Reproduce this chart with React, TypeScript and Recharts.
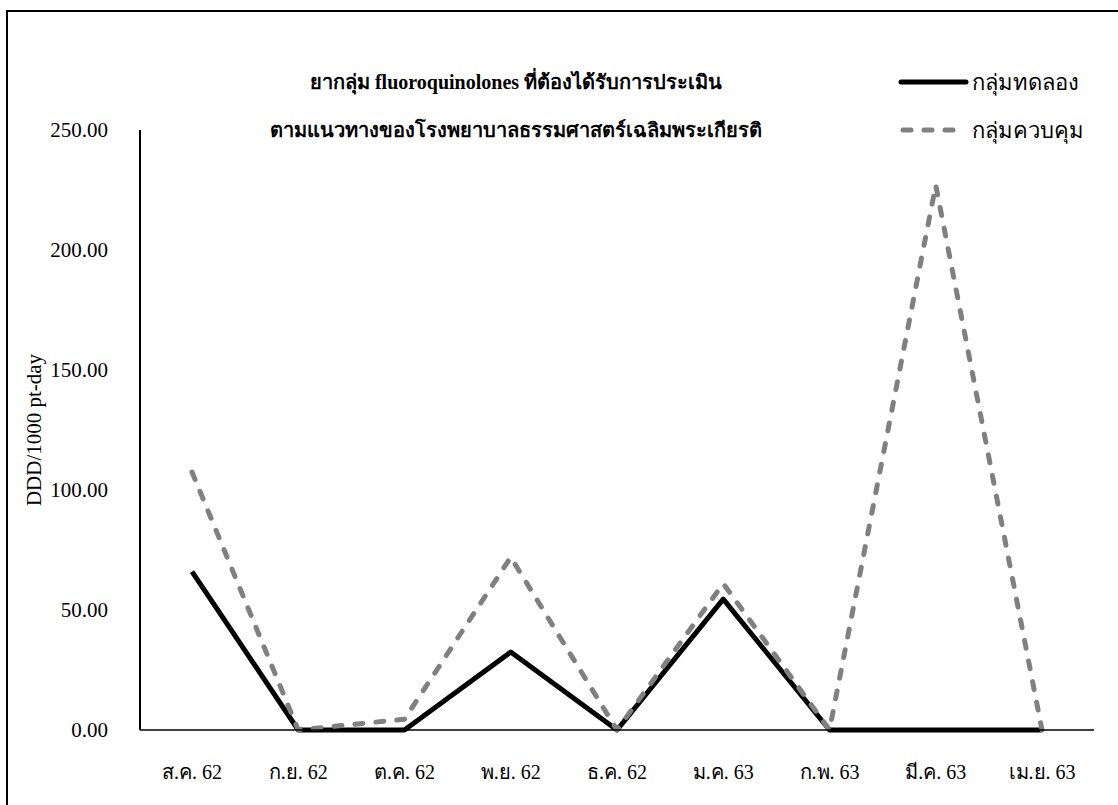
import React from "react";
import { LineChart, Line, XAxis, YAxis, Legend } from "recharts";

// เดือนที่ติดตาม (ส.ค. 62 - เม.ย. 63)
const months = [
  "ส.ค. 62",
  "ก.ย. 62",
  "ต.ค. 62",
  "พ.ย. 62",
  "ธ.ค. 62",
  "ม.ค. 63",
  "ก.พ. 63",
  "มี.ค. 63",
  "เม.ย. 63",
];

// DDD/1000 pt-day
const experimentGroup = [66, 0, 0, 32.5, 0, 54.5, 0, 0, 0];
const controlGroup = [107.5, 0, 4.5, 72, 0, 61, 0, 227, 0];

const yTicks = [0, 50, 100, 150, 200, 250];

const titleLines = [
  "ยากลุ่ม fluoroquinolones ที่ต้องได้รับการประเมิน",
  "ตามแนวทางของโรงพยาบาลธรรมศาสตร์เฉลิมพระเกียรติ",
];

const seriesNames = { experiment: "กลุ่มทดลอง", control: "กลุ่มควบคุม" };

const data = months.map((m, i) => ({
  month: m,
  experiment: experimentGroup[i],
  control: controlGroup[i],
}));

const FONT = '"Liberation Serif", "Times New Roman", "DejaVu Serif", serif';
const DASH = "8 13";

const renderLegend = () => (
  <div style={{ fontFamily: FONT, fontSize: 22, color: "#000", textAlign: "left" }}>
    <div style={{ display: "flex", alignItems: "center", height: 48 }}>
      <svg width={72} height={10}>
        <line x1={3} y1={5} x2={68} y2={5} stroke="#000" strokeWidth={5} strokeLinecap="round" />
      </svg>
      <span style={{ marginLeft: 2 }}>{seriesNames.experiment}</span>
    </div>
    <div style={{ display: "flex", alignItems: "center", height: 48 }}>
      <svg width={72} height={10}>
        <line
          x1={5}
          y1={5}
          x2={66}
          y2={5}
          stroke="#808080"
          strokeWidth={5}
          strokeLinecap="round"
          strokeDasharray={DASH}
        />
      </svg>
      <span style={{ marginLeft: 2 }}>{seriesNames.control}</span>
    </div>
  </div>
);

export default function App() {
  return (
    <div
      style={{
        position: "absolute",
        left: 0,
        top: 0,
        width: 1118,
        height: 805,
        background: "#fff",
        overflow: "hidden",
        fontFamily: FONT,
      }}
    >
      {/* chart frame (runs off the right and bottom edge) */}
      <div
        style={{
          position: "absolute",
          left: 6,
          top: 10,
          width: 1120,
          height: 800,
          borderLeft: "2px solid #000",
          borderTop: "2px solid #000",
        }}
      />
      <div
        style={{
          position: "absolute",
          left: 0,
          top: 58,
          width: 1032,
          textAlign: "center",
          fontWeight: "bold",
          fontSize: 20,
          lineHeight: "48px",
          color: "#000",
        }}
      >
        {titleLines.map((t) => (
          <div key={t}>{t}</div>
        ))}
      </div>
      <LineChart
        width={1118}
        height={805}
        data={data}
        margin={{ top: 130, right: 24, bottom: 35, left: 40 }}
        style={{ position: "absolute", left: 0, top: 0 }}
      >
        <XAxis
          dataKey="month"
          height={40}
          padding={{ left: 52, right: 52 }}
          tickLine={false}
          tickSize={0}
          tickMargin={35}
          axisLine={{ stroke: "#000", strokeWidth: 1.5 }}
          tick={{ fill: "#000", fontSize: 20, fontFamily: FONT }}
          interval={0}
        />
        <YAxis
          width={100}
          domain={[0, 250]}
          ticks={yTicks}
          tickFormatter={(v: number) => v.toFixed(2)}
          tickLine={false}
          tickSize={0}
          tickMargin={32}
          axisLine={{ stroke: "#000", strokeWidth: 2 }}
          tick={{ fill: "#000", fontSize: 21, fontFamily: FONT }}
          label={{
            value: "DDD/1000 pt-day",
            angle: -90,
            position: "insideLeft",
            offset: -6,
            style: { fill: "#000", fontSize: 21, fontFamily: FONT, textAnchor: "middle" },
          }}
        />
        {/* legend floats in the top-right corner without taking plot space */}
        <Legend
          layout="vertical"
          verticalAlign="middle"
          align="center"
          content={renderLegend}
          wrapperStyle={{ position: "absolute", left: 898, top: 58, width: 220 }}
        />
        <Line
          type="linear"
          dataKey="experiment"
          name={seriesNames.experiment}
          stroke="#000"
          strokeWidth={5}
          strokeLinejoin="round"
          dot={false}
          activeDot={false}
          isAnimationActive={false}
        />
        <Line
          type="linear"
          dataKey="control"
          name={seriesNames.control}
          stroke="#808080"
          strokeWidth={5}
          strokeDasharray={DASH}
          strokeLinecap="round"
          strokeLinejoin="round"
          dot={false}
          activeDot={false}
          isAnimationActive={false}
        />
      </LineChart>
    </div>
  );
}
